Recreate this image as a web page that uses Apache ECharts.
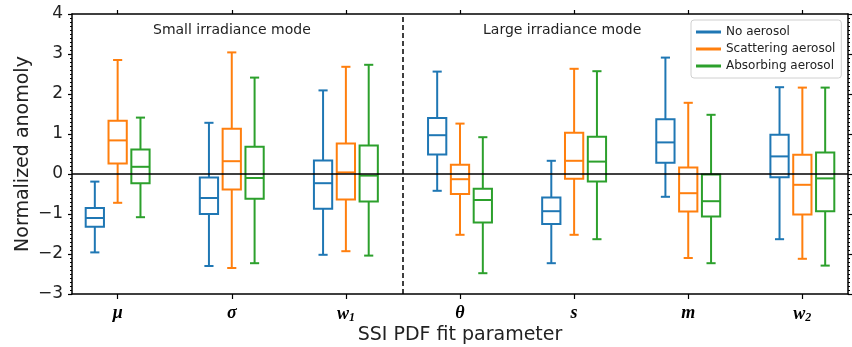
<!DOCTYPE html>
<html>
<head>
<meta charset="utf-8">
<script src="https://cdn.jsdelivr.net/npm/echarts@6/dist/echarts.min.js"></script>
<style>
  html, body { margin: 0; padding: 0; background: #fff; }
  #chart { width: 852px; height: 347px; }
</style>
</head>
<body>
<div id="chart"></div>
<script>
// Fit parameters along the x axis (rich-text keys for the tick labels)
const params = ['mu', 'sigma', 'w1', 'theta', 's', 'm', 'w2'];
const paramLabels = ['{v|μ}', '{v|σ}', '{v|w}{sub|1}', '{v|θ}', '{v|s}', '{v|m}', '{v|w}{sub|2}'];

const seriesNames = ['No aerosol', 'Scattering aerosol', 'Absorbing aerosol'];
const seriesColors = ['#1f77b4', '#ff7f0e', '#2ca02c'];

// Box statistics per parameter: [lower whisker, Q1, median, Q3, upper whisker]
const noAerosol = [
  [-1.96, -1.32, -1.10, -0.85, -0.19],
  [-2.30, -1.00, -0.60, -0.09, 1.28],
  [-2.02, -0.87, -0.23, 0.34, 2.09],
  [-0.42, 0.49, 0.97, 1.40, 2.56],
  [-2.23, -1.25, -0.93, -0.59, 0.33],
  [-0.57, 0.28, 0.79, 1.37, 2.91],
  [-1.63, -0.08, 0.44, 0.98, 2.17]
];
const scatteringAerosol = [
  [-0.72, 0.26, 0.84, 1.33, 2.85],
  [-2.35, -0.39, 0.32, 1.13, 3.04],
  [-1.93, -0.64, 0.04, 0.76, 2.68],
  [-1.52, -0.50, -0.13, 0.23, 1.26],
  [-1.52, -0.12, 0.33, 1.03, 2.63],
  [-2.10, -0.94, -0.48, 0.16, 1.78],
  [-2.12, -1.01, -0.27, 0.48, 2.16]
];
const absorbingAerosol = [
  [-1.08, -0.23, 0.18, 0.61, 1.41],
  [-2.23, -0.62, -0.10, 0.68, 2.41],
  [-2.04, -0.69, -0.04, 0.71, 2.73],
  [-2.48, -1.21, -0.65, -0.37, 0.92],
  [-1.63, -0.19, 0.31, 0.93, 2.57],
  [-2.23, -1.06, -0.68, -0.01, 1.48],
  [-2.29, -0.93, -0.11, 0.54, 2.16]
];
const allStats = [noAerosol, scatteringAerosol, absorbingAerosol];

// Y axis ticks
const yMin = -3, yMax = 4, yStep = 1;
// Group layout on the x axis (in data units)
const groupOffsets = [-0.2, 0, 0.2];
const boxWidth = 0.16;
const modeSplit = 3.5;

const FONT = 'DejaVu Sans';
const catPositions = params.map((_, i) => i + 1);

function renderBox(params, api) {
  const x = api.value(0);
  const lo = api.coord([x, api.value(1)]);
  const q1 = api.coord([x, api.value(2)]);
  const med = api.coord([x, api.value(3)]);
  const q3 = api.coord([x, api.value(4)]);
  const hi = api.coord([x, api.value(5)]);
  const w = api.size([boxWidth, 0])[0];
  const cx = lo[0];
  const color = api.visual('color');
  const style = { stroke: color, lineWidth: 2, fill: null };
  const line = (x1, y1, x2, y2) => ({ type: 'line', shape: { x1, y1, x2, y2 }, style });
  return {
    type: 'group',
    children: [
      line(cx, hi[1], cx, q3[1]),
      line(cx, q1[1], cx, lo[1]),
      line(cx - w / 4, hi[1], cx + w / 4, hi[1]),
      line(cx - w / 4, lo[1], cx + w / 4, lo[1]),
      { type: 'rect', shape: { x: cx - w / 2, y: q3[1], width: w, height: q1[1] - q3[1] }, style },
      line(cx - w / 2, med[1], cx + w / 2, med[1])
    ]
  };
}

const boxSeries = allStats.map((stats, si) => ({
  name: seriesNames[si],
  type: 'custom',
  color: seriesColors[si],
  renderItem: renderBox,
  encode: { x: 0, y: [1, 2, 3, 4, 5] },
  data: stats.map((s, ci) => [catPositions[ci] + groupOffsets[si]].concat(s)),
  z: 3
}));

// Reference lines: zero anomaly and the split between the two modes
boxSeries.push({
  type: 'line',
  data: [],
  silent: true,
  markLine: {
    silent: true,
    symbol: 'none',
    label: { show: false },
    data: [
      { yAxis: 0, lineStyle: { color: '#000', width: 1.5, type: 'solid' } },
      { xAxis: modeSplit, lineStyle: { color: '#000', width: 1.5, type: [5, 3] } }
    ]
  }
});

const minus = v => String(v).replace('-', '\u2212');

const option = {
  animation: false,
  backgroundColor: '#fff',
  grid: { left: 72, right: 4, top: 14, bottom: 53, containLabel: false, outerBoundsMode: 'none' },
  legend: {
    data: seriesNames,
    orient: 'vertical',
    left: 691,
    top: 20,
    padding: [5, 6, 5, 5],
    itemGap: 3,
    itemWidth: 25,
    itemHeight: 3,
    icon: 'rect',
    backgroundColor: '#fff',
    borderColor: '#d0d0d0',
    borderWidth: 1,
    borderRadius: 3,
    textStyle: { fontFamily: FONT, fontSize: 12, color: '#222', lineHeight: 14 }
  },
  xAxis: [
    {
      type: 'value',
      min: 0.6, max: 7.4,
      position: 'bottom',
      name: 'SSI PDF fit parameter',
      nameLocation: 'middle',
      nameMoveOverlap: false,
      nameGap: 32,
      nameTextStyle: { fontFamily: FONT, fontSize: 19, color: '#222' },
      axisLine: { show: true, onZero: false, lineStyle: { color: '#000', width: 1.5 } },
      axisTick: { show: true, inside: false, length: 5, customValues: catPositions, lineStyle: { color: '#000', width: 1.2 } },
      axisLabel: {
        customValues: catPositions,
        margin: 10,
        formatter: v => paramLabels[Math.round(v) - 1] || '',
        rich: {
          v: { fontFamily: 'Liberation Serif', fontStyle: 'italic', fontWeight: 'bold', fontSize: 18, color: '#000' },
          sub: { fontFamily: 'Liberation Serif', fontStyle: 'italic', fontWeight: 'bold', fontSize: 12, color: '#000', padding: [8, 0, 0, 0] }
        }
      },
      splitLine: { show: false }
    },
    {
      type: 'value',
      min: 0.6, max: 7.4,
      position: 'top',
      axisLine: { show: true, onZero: false, lineStyle: { color: '#000', width: 1.5 } },
      axisTick: { show: true, inside: false, length: 4, customValues: catPositions, lineStyle: { color: '#000', width: 1.2 } },
      axisLabel: { show: false },
      splitLine: { show: false }
    }
  ],
  yAxis: [
    {
      type: 'value',
      min: yMin, max: yMax, interval: yStep,
      position: 'left',
      name: 'Normalized anomoly',
      nameLocation: 'middle',
      nameMoveOverlap: false,
      nameGap: 39,
      nameTextStyle: { fontFamily: FONT, fontSize: 19, color: '#222' },
      axisLine: { show: true, onZero: false, lineStyle: { color: '#000', width: 1.5 } },
      axisTick: { show: true, inside: false, length: 4, lineStyle: { color: '#000', width: 1.2 } },
      minorTick: { show: true, splitNumber: 10, length: 2, lineStyle: { color: '#000', width: 1 } },
      axisLabel: { fontFamily: FONT, fontSize: 17, color: '#222', margin: 9, formatter: minus },
      splitLine: { show: false }
    },
    {
      type: 'value',
      min: yMin, max: yMax, interval: yStep,
      position: 'right',
      axisLine: { show: true, onZero: false, lineStyle: { color: '#000', width: 1.5 } },
      axisTick: { show: true, inside: false, length: 4, lineStyle: { color: '#000', width: 1.2 } },
      minorTick: { show: true, splitNumber: 10, length: 2, lineStyle: { color: '#000', width: 1 } },
      axisLabel: { show: false },
      splitLine: { show: false }
    }
  ],
  graphic: [
    { type: 'text', left: 153, top: 23, style: { text: 'Small irradiance mode', fontFamily: FONT, fontSize: 14, fill: '#222' } },
    { type: 'text', left: 483, top: 23, style: { text: 'Large irradiance mode', fontFamily: FONT, fontSize: 14, fill: '#222' } }
  ],
  series: boxSeries
};

const chart = echarts.init(document.getElementById('chart'), null, { renderer: 'canvas' });
chart.setOption(option);
</script>
</body>
</html>
